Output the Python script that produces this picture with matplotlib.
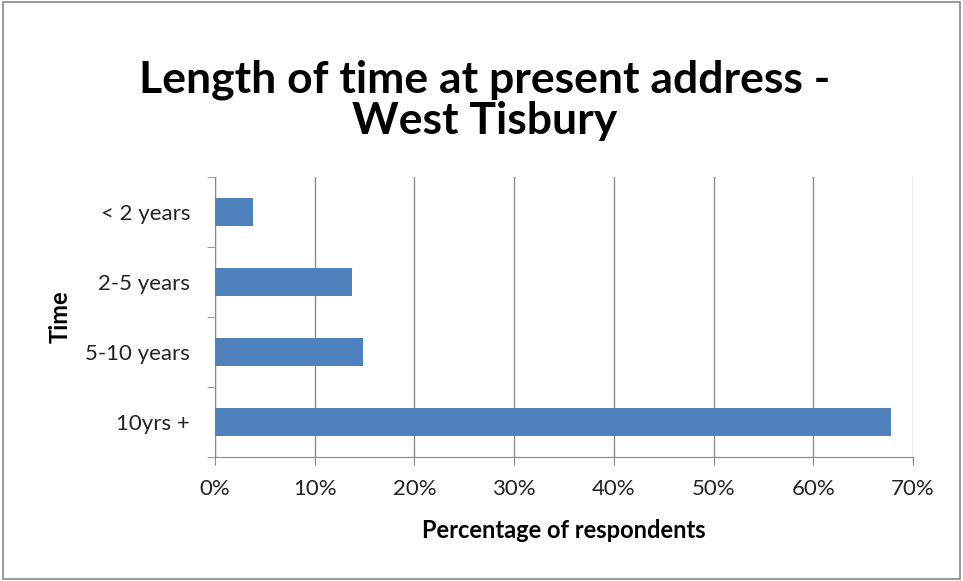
import matplotlib.pyplot as plt
from matplotlib.patches import Rectangle
from matplotlib.ticker import FixedLocator, PercentFormatter

# Datos
categorias = ["10yrs +", "5-10 years", "2-5 years", "< 2 years"]
porcentajes = [67.8, 14.8, 13.7, 3.8]
ticks_x = [0, 10, 20, 30, 40, 50, 60, 70]

plt.rcParams['font.family'] = ['Lato', 'DejaVu Sans']

fig = plt.figure(figsize=(9.63, 5.81), dpi=100)
fig.patches.append(Rectangle((0.003, 0.004), 0.994, 0.992, transform=fig.transFigure,
                             fill=False, edgecolor='#888888', linewidth=1.2))

ax = fig.add_axes([0.2233, 0.2134, 0.7248, 0.482])
pos = list(range(len(categorias)))
ax.barh(pos, porcentajes, height=0.4, color='#4F81BD', zorder=3)

ax.set_xlim(0, 70)
ax.set_ylim(-0.5, len(categorias) - 0.5)
ax.set_xticks(ticks_x)
ax.xaxis.set_major_formatter(PercentFormatter(decimals=0))
ax.set_yticks(pos)
ax.set_yticklabels(categorias)
ax.yaxis.set_minor_locator(FixedLocator([p - 0.5 for p in range(len(categorias) + 1)]))
ax.tick_params(axis='y', which='major', length=0, pad=18, labelsize=16, colors='#222222')
ax.tick_params(axis='y', which='minor', length=6, color='#888888')
ax.tick_params(axis='x', length=6, color='#888888', labelsize=16, pad=10, colors='#222222')

ax.grid(axis='x', color='#8c8c8c', linewidth=1, zorder=0)
for s in ['top', 'right']:
    ax.spines[s].set_visible(False)
for s in ['left', 'bottom']:
    ax.spines[s].set_color('#888888')

ax.set_xlabel("Percentage of respondents", fontsize=17, fontweight='bold', labelpad=14)
ax.set_ylabel("Time", fontsize=17, fontweight='bold', labelpad=10)

fig.text(0.503, 0.862, "Length of time at present address -", ha='center', va='center',
         fontsize=32, fontweight='bold')
fig.text(0.503, 0.792, "West Tisbury", ha='center', va='center',
         fontsize=32, fontweight='bold')

plt.savefig("out.png", dpi=100)
